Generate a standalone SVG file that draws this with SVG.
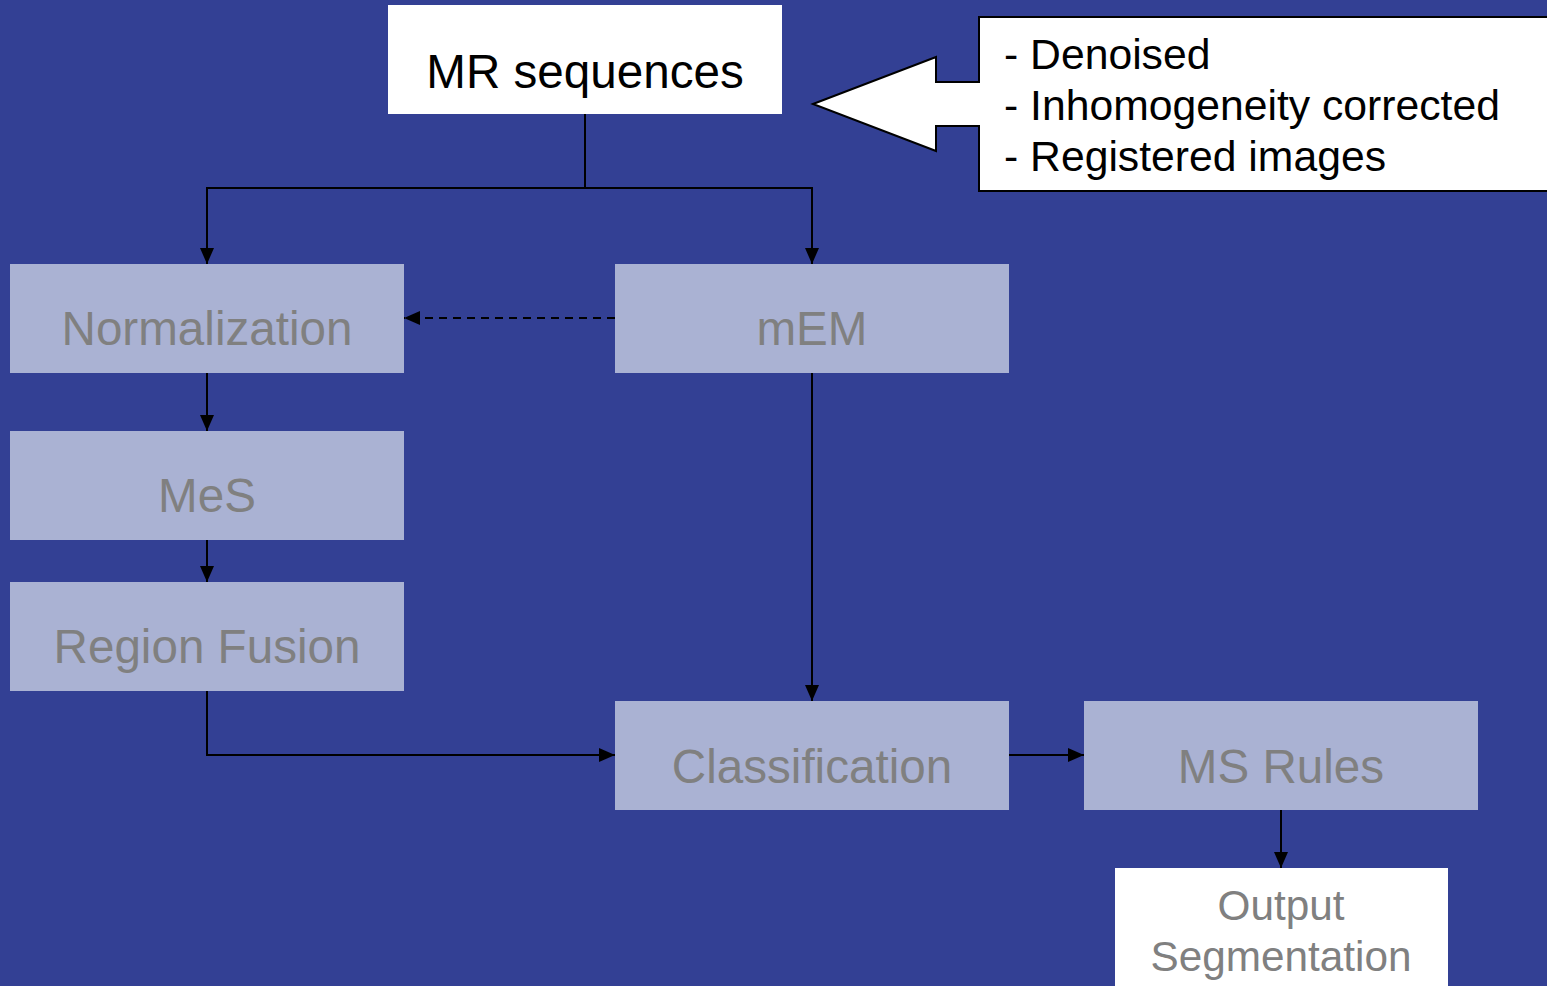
<svg xmlns="http://www.w3.org/2000/svg" width="1547" height="986" viewBox="0 0 1547 986">
<defs>
<style>
.box{fill:#aab2d3;}
.wbox{fill:#ffffff;}
.t{font-family:"Liberation Sans",Arial,sans-serif;font-size:47.6px;fill:#808080;text-anchor:middle;}
.tk{font-family:"Liberation Sans",Arial,sans-serif;font-size:47.6px;fill:#000000;text-anchor:middle;}
.tc{font-family:"Liberation Sans",Arial,sans-serif;font-size:42.7px;fill:#000000;}
.to{font-family:"Liberation Sans",Arial,sans-serif;font-size:42.3px;fill:#808080;text-anchor:middle;}
.ln{fill:none;stroke:#000000;stroke-width:2;}
.dash{stroke-dasharray:8,6;}
</style>
<marker id="a" viewBox="0 0 16 16" refX="16" refY="8" markerWidth="16" markerHeight="16" markerUnits="userSpaceOnUse" orient="auto">
<path d="M0,1 L16,8 L0,15 Z" fill="#000000"/>
</marker>
</defs>
<rect x="0" y="0" width="1547" height="986" fill="#334094"/>

<g id="connectors">
<path class="ln" d="M585,114 V188 H207 V264" marker-end="url(#a)"/>
<path class="ln" d="M585,188 H812 V264" marker-end="url(#a)"/>
<path class="ln dash" d="M615,318 H404" marker-end="url(#a)"/>
<path class="ln" d="M207,373 V431" marker-end="url(#a)"/>
<path class="ln" d="M207,540 V582" marker-end="url(#a)"/>
<path class="ln" d="M207,691 V755 H615" marker-end="url(#a)"/>
<path class="ln" d="M812,373 V701" marker-end="url(#a)"/>
<path class="ln" d="M1009,755 H1084" marker-end="url(#a)"/>
<path class="ln" d="M1281,810 V868" marker-end="url(#a)"/>
</g>

<g id="mr">
<rect class="wbox" x="388" y="5" width="394" height="109"/>
<text class="tk" x="585" y="88">MR sequences</text>
</g>

<g id="callout">
<path d="M813,104 L936,57 L936,82 L979,82 L979,17 L1560,17 L1560,191 L979,191 L979,126 L936,126 L936,151 Z" fill="#ffffff" stroke="#000000" stroke-width="2"/>
<text class="tc" x="1004" y="69">- Denoised</text>
<text class="tc" x="1004" y="120">- Inhomogeneity corrected</text>
<text class="tc" x="1004" y="171">- Registered images</text>
</g>

<g id="normalization">
<rect class="box" x="10" y="264" width="394" height="109"/>
<text class="t" x="207" y="345">Normalization</text>
</g>

<g id="mem">
<rect class="box" x="615" y="264" width="394" height="109"/>
<text class="t" x="812" y="345">mEM</text>
</g>

<g id="mes">
<rect class="box" x="10" y="431" width="394" height="109"/>
<text class="t" x="207" y="512">MeS</text>
</g>

<g id="regionfusion">
<rect class="box" x="10" y="582" width="394" height="109"/>
<text class="t" x="207" y="663">Region Fusion</text>
</g>

<g id="classification">
<rect class="box" x="615" y="701" width="394" height="109"/>
<text class="t" x="812" y="783">Classification</text>
</g>

<g id="msrules">
<rect class="box" x="1084" y="701" width="394" height="109"/>
<text class="t" x="1281" y="783">MS Rules</text>
</g>

<g id="output">
<rect class="wbox" x="1115" y="868" width="333" height="130"/>
<text class="to" x="1281" y="920">Output</text>
<text class="to" x="1281" y="971">Segmentation</text>
</g>
</svg>
